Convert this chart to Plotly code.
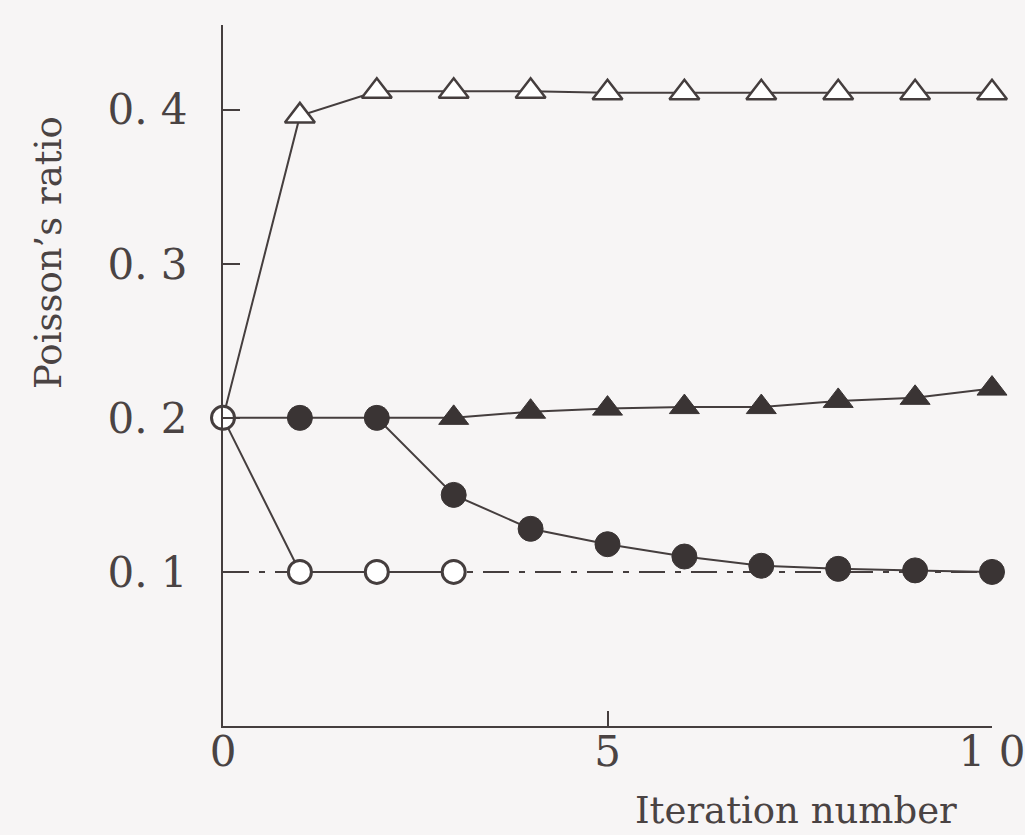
import plotly.graph_objects as go

iteration = list(range(11))
open_tri = [0.200, 0.396, 0.412, 0.412, 0.412, 0.411, 0.411, 0.411, 0.411, 0.411, 0.411]
filled_tri_x = [2, 3, 4, 5, 6, 7, 8, 9, 10]
filled_tri = [0.200, 0.200, 0.204, 0.206, 0.207, 0.207, 0.211, 0.213, 0.219]
filled_circ = [0.200, 0.200, 0.200, 0.150, 0.128, 0.118, 0.110, 0.104, 0.102, 0.101, 0.100]
open_circ_x = [0, 1, 2, 3]
open_circ = [0.200, 0.100, 0.100, 0.100]
ref_x = [0, 10]
ref_y = [0.1, 0.1]

x_tickvals = [0, 5, 10]
x_ticktext = ["0", "5", "1 0"]
y_tickvals = [0.1, 0.2, 0.3, 0.4]
y_ticktext = ["0. 1", "0. 2", "0. 3", "0. 4"]

INK = "#453e3e"
FILL = "#3a3434"
BG = "#f7f5f5"
FONT = "DejaVu Serif"
TXT = "#4a4343"

fig = go.Figure()
line = dict(color=INK, width=2)

# reference dash-dot line at 0.1
fig.add_trace(go.Scatter(x=ref_x, y=ref_y, mode="lines",
                         line=dict(color=INK, width=2, dash="26px,10px,6px,10px"),
                         cliponaxis=False, showlegend=False))
# connecting lines
fig.add_trace(go.Scatter(x=iteration, y=open_tri, mode="lines", line=line, cliponaxis=False, showlegend=False))
fig.add_trace(go.Scatter(x=filled_tri_x, y=filled_tri, mode="lines", line=line, cliponaxis=False, showlegend=False))
fig.add_trace(go.Scatter(x=iteration, y=filled_circ, mode="lines", line=line, cliponaxis=False, showlegend=False))
fig.add_trace(go.Scatter(x=open_circ_x, y=open_circ, mode="lines", line=line, cliponaxis=False, showlegend=False))

# markers
fig.add_trace(go.Scatter(x=iteration[1:], y=open_tri[1:], mode="markers",
                         marker=dict(symbol="triangle-up", size=26, color="white",
                                     line=dict(color=INK, width=2.5)),
                         cliponaxis=False, showlegend=False))
fig.add_trace(go.Scatter(x=filled_tri_x[1:], y=filled_tri[1:], mode="markers",
                         marker=dict(symbol="triangle-up", size=26, color=FILL,
                                     line=dict(color=FILL, width=1)),
                         cliponaxis=False, showlegend=False))
fig.add_trace(go.Scatter(x=iteration[1:], y=filled_circ[1:], mode="markers",
                         marker=dict(symbol="circle", size=25, color=FILL,
                                     line=dict(color=FILL, width=1)),
                         cliponaxis=False, showlegend=False))
fig.add_trace(go.Scatter(x=open_circ_x, y=open_circ, mode="markers",
                         marker=dict(symbol="circle", size=23, color="white",
                                     line=dict(color=INK, width=3)),
                         cliponaxis=False, showlegend=False))

fig.update_layout(
    width=1025, height=835,
    margin=dict(l=223, r=33, t=25, b=109, autoexpand=False),
    paper_bgcolor=BG, plot_bgcolor=BG,
    font=dict(family=FONT, color=TXT, size=36),
    showlegend=False,
    annotations=[
        dict(text="Iteration number", xref="paper", yref="paper",
             x=0.745, y=-0.12, showarrow=False, font=dict(family=FONT, size=37, color=TXT),
             xanchor="center", yanchor="middle"),
        dict(text="Poisson’s ratio", xref="paper", yref="paper",
             x=-0.226, y=0.675, showarrow=False, textangle=-90,
             font=dict(family=FONT, size=37, color=TXT), xanchor="center", yanchor="middle"),
    ],
)
fig.update_xaxes(range=[0, 10], tickvals=x_tickvals, ticktext=x_ticktext,
                 ticks="inside", ticklen=15, tickwidth=2, tickcolor=INK,
                 showline=True, linecolor=INK, linewidth=2, showgrid=False,
                 zeroline=False, ticklabelstandoff=-12, ticklabeloverflow="allow",
                 automargin=False,
                 tickfont=dict(family=FONT, size=42, color=TXT))
fig.update_yaxes(range=[0, 0.455], tickvals=y_tickvals, ticktext=y_ticktext,
                 ticks="inside", ticklen=17, tickwidth=2, tickcolor=INK,
                 showline=True, linecolor=INK, linewidth=2, showgrid=False,
                 zeroline=False, ticklabelstandoff=25, ticklabeloverflow="allow",
                 automargin=False,
                 tickfont=dict(family=FONT, size=42, color=TXT))

fig.write_html("out.html")
